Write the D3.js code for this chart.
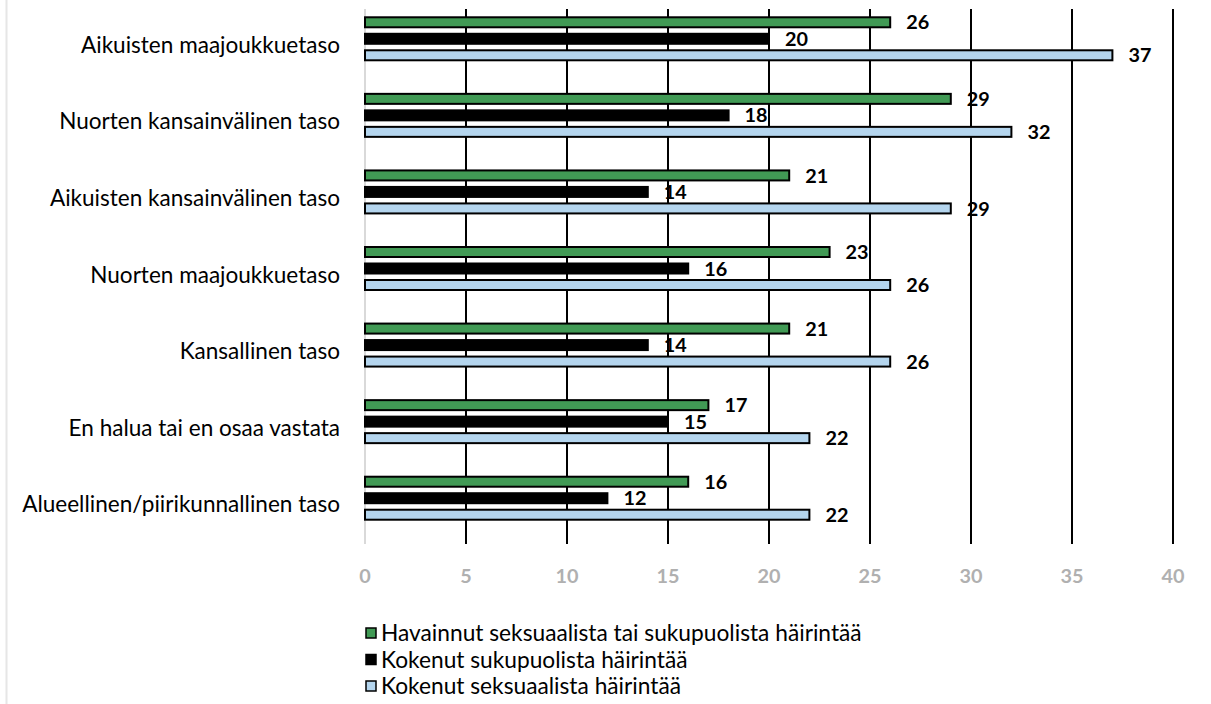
<!DOCTYPE html>
<html><head><meta charset="utf-8">
<script src="https://cdn.jsdelivr.net/npm/d3@7"></script>
<style>body{margin:0;background:#fff}svg{display:block}</style>
</head><body>
<svg id="c" width="1211" height="704"></svg>
<script>
const categories = ["Aikuisten maajoukkuetaso","Nuorten kansainvälinen taso","Aikuisten kansainvälinen taso","Nuorten maajoukkuetaso","Kansallinen taso","En halua tai en osaa vastata","Alueellinen/piirikunnallinen taso"];
const seriesNames = ["Havainnut seksuaalista tai sukupuolista häirintää","Kokenut sukupuolista häirintää","Kokenut seksuaalista häirintää"];
const havainnut = [26,29,21,23,21,17,16];
const kokenutSukupuolista = [20,18,14,16,14,15,12];
const kokenutSeksuaalista = [37,32,29,26,26,22,22];
const ticks = [0,5,10,15,20,25,30,35,40];
const colors = ["#419a55","#000000","#b4d5ee"];

const svg = d3.select("#c");
const font = "Lato, Open Sans, sans-serif";
svg.append("line").attr("x1",6.5).attr("x2",6.5).attr("y1",0).attr("y2",704).attr("stroke","#e6e6e6").attr("stroke-width",2);

const x = d3.scaleLinear().domain([0,40]).range([365,1173]);
const y = d3.scaleBand().domain(categories).range([9,545]);
const series = [havainnut,kokenutSukupuolista,kokenutSeksuaalista];

// fit a font size so that text measures the target width
function fitSize(text, weight, target){
  const t = svg.append("text").attr("font-family",font).attr("font-weight",weight).attr("font-size",20).text(text);
  const w = t.node().getComputedTextLength();
  t.remove();
  return 20*target/w;
}
const catSize = fitSize("Alueellinen/piirikunnallinen taso","normal",318);
const legSize = fitSize("Havainnut seksuaalista tai sukupuolista häirintää","normal",481);
const valSize = fitSize("37","bold",23);
const tickSize = fitSize("40","bold",23);

// gridlines
svg.append("g").selectAll("line").data(ticks).join("line")
  .attr("x1",d=>x(d)).attr("x2",d=>x(d)).attr("y1",9).attr("y2",544)
  .attr("stroke",d=>d===0?"#d9d9d9":"#000").attr("stroke-width",2);

const offsets = [-16.5,0,16.5];
const bh = 10;
const center = c => y(c)+y.bandwidth()/2-8.5;
series.forEach((vals,si)=>{
  const g = svg.append("g");
  g.selectAll("rect").data(categories).join("rect")
    .attr("x",x(0)).attr("y",c=>center(c)+offsets[si]-bh/2)
    .attr("width",(c,i)=>x(vals[i])-x(0)).attr("height",bh)
    .attr("fill",colors[si]).attr("stroke","#000").attr("stroke-width",2);
  g.selectAll("text").data(categories).join("text")
    .attr("x",(c,i)=>x(vals[i])+16).attr("y",c=>center(c)+offsets[si])
    .attr("dy","0.36em").attr("font-family",font).attr("font-weight","bold").attr("font-size",valSize)
    .attr("fill","#000").text((c,i)=>vals[i]);
});

// category labels
svg.append("g").selectAll("text").data(categories).join("text")
  .attr("x",340).attr("y",c=>y(c)+y.bandwidth()/2-2.5).attr("dy","0.36em")
  .attr("text-anchor","end").attr("font-family",font).attr("font-size",catSize).attr("fill","#000")
  .text(d=>d);

// tick labels
svg.append("g").selectAll("text").data(ticks).join("text")
  .attr("x",d=>x(d)).attr("y",576).attr("dy","0.36em").attr("text-anchor","middle")
  .attr("font-family",font).attr("font-weight","bold").attr("font-size",tickSize).attr("fill","#b0b0b0")
  .text(d=>d);

// legend
const lg = svg.append("g");
seriesNames.forEach((n,i)=>{
  const yy = 633 + i*26.5;
  lg.append("rect").attr("x",366).attr("y",yy-5).attr("width",10).attr("height",10)
    .attr("fill",colors[i]).attr("stroke","#000").attr("stroke-width",1.5);
  lg.append("text").attr("x",381).attr("y",yy).attr("dy","0.36em")
    .attr("font-family",font).attr("font-size",legSize).attr("fill","#000").text(n);
});
</script>
</body></html>
